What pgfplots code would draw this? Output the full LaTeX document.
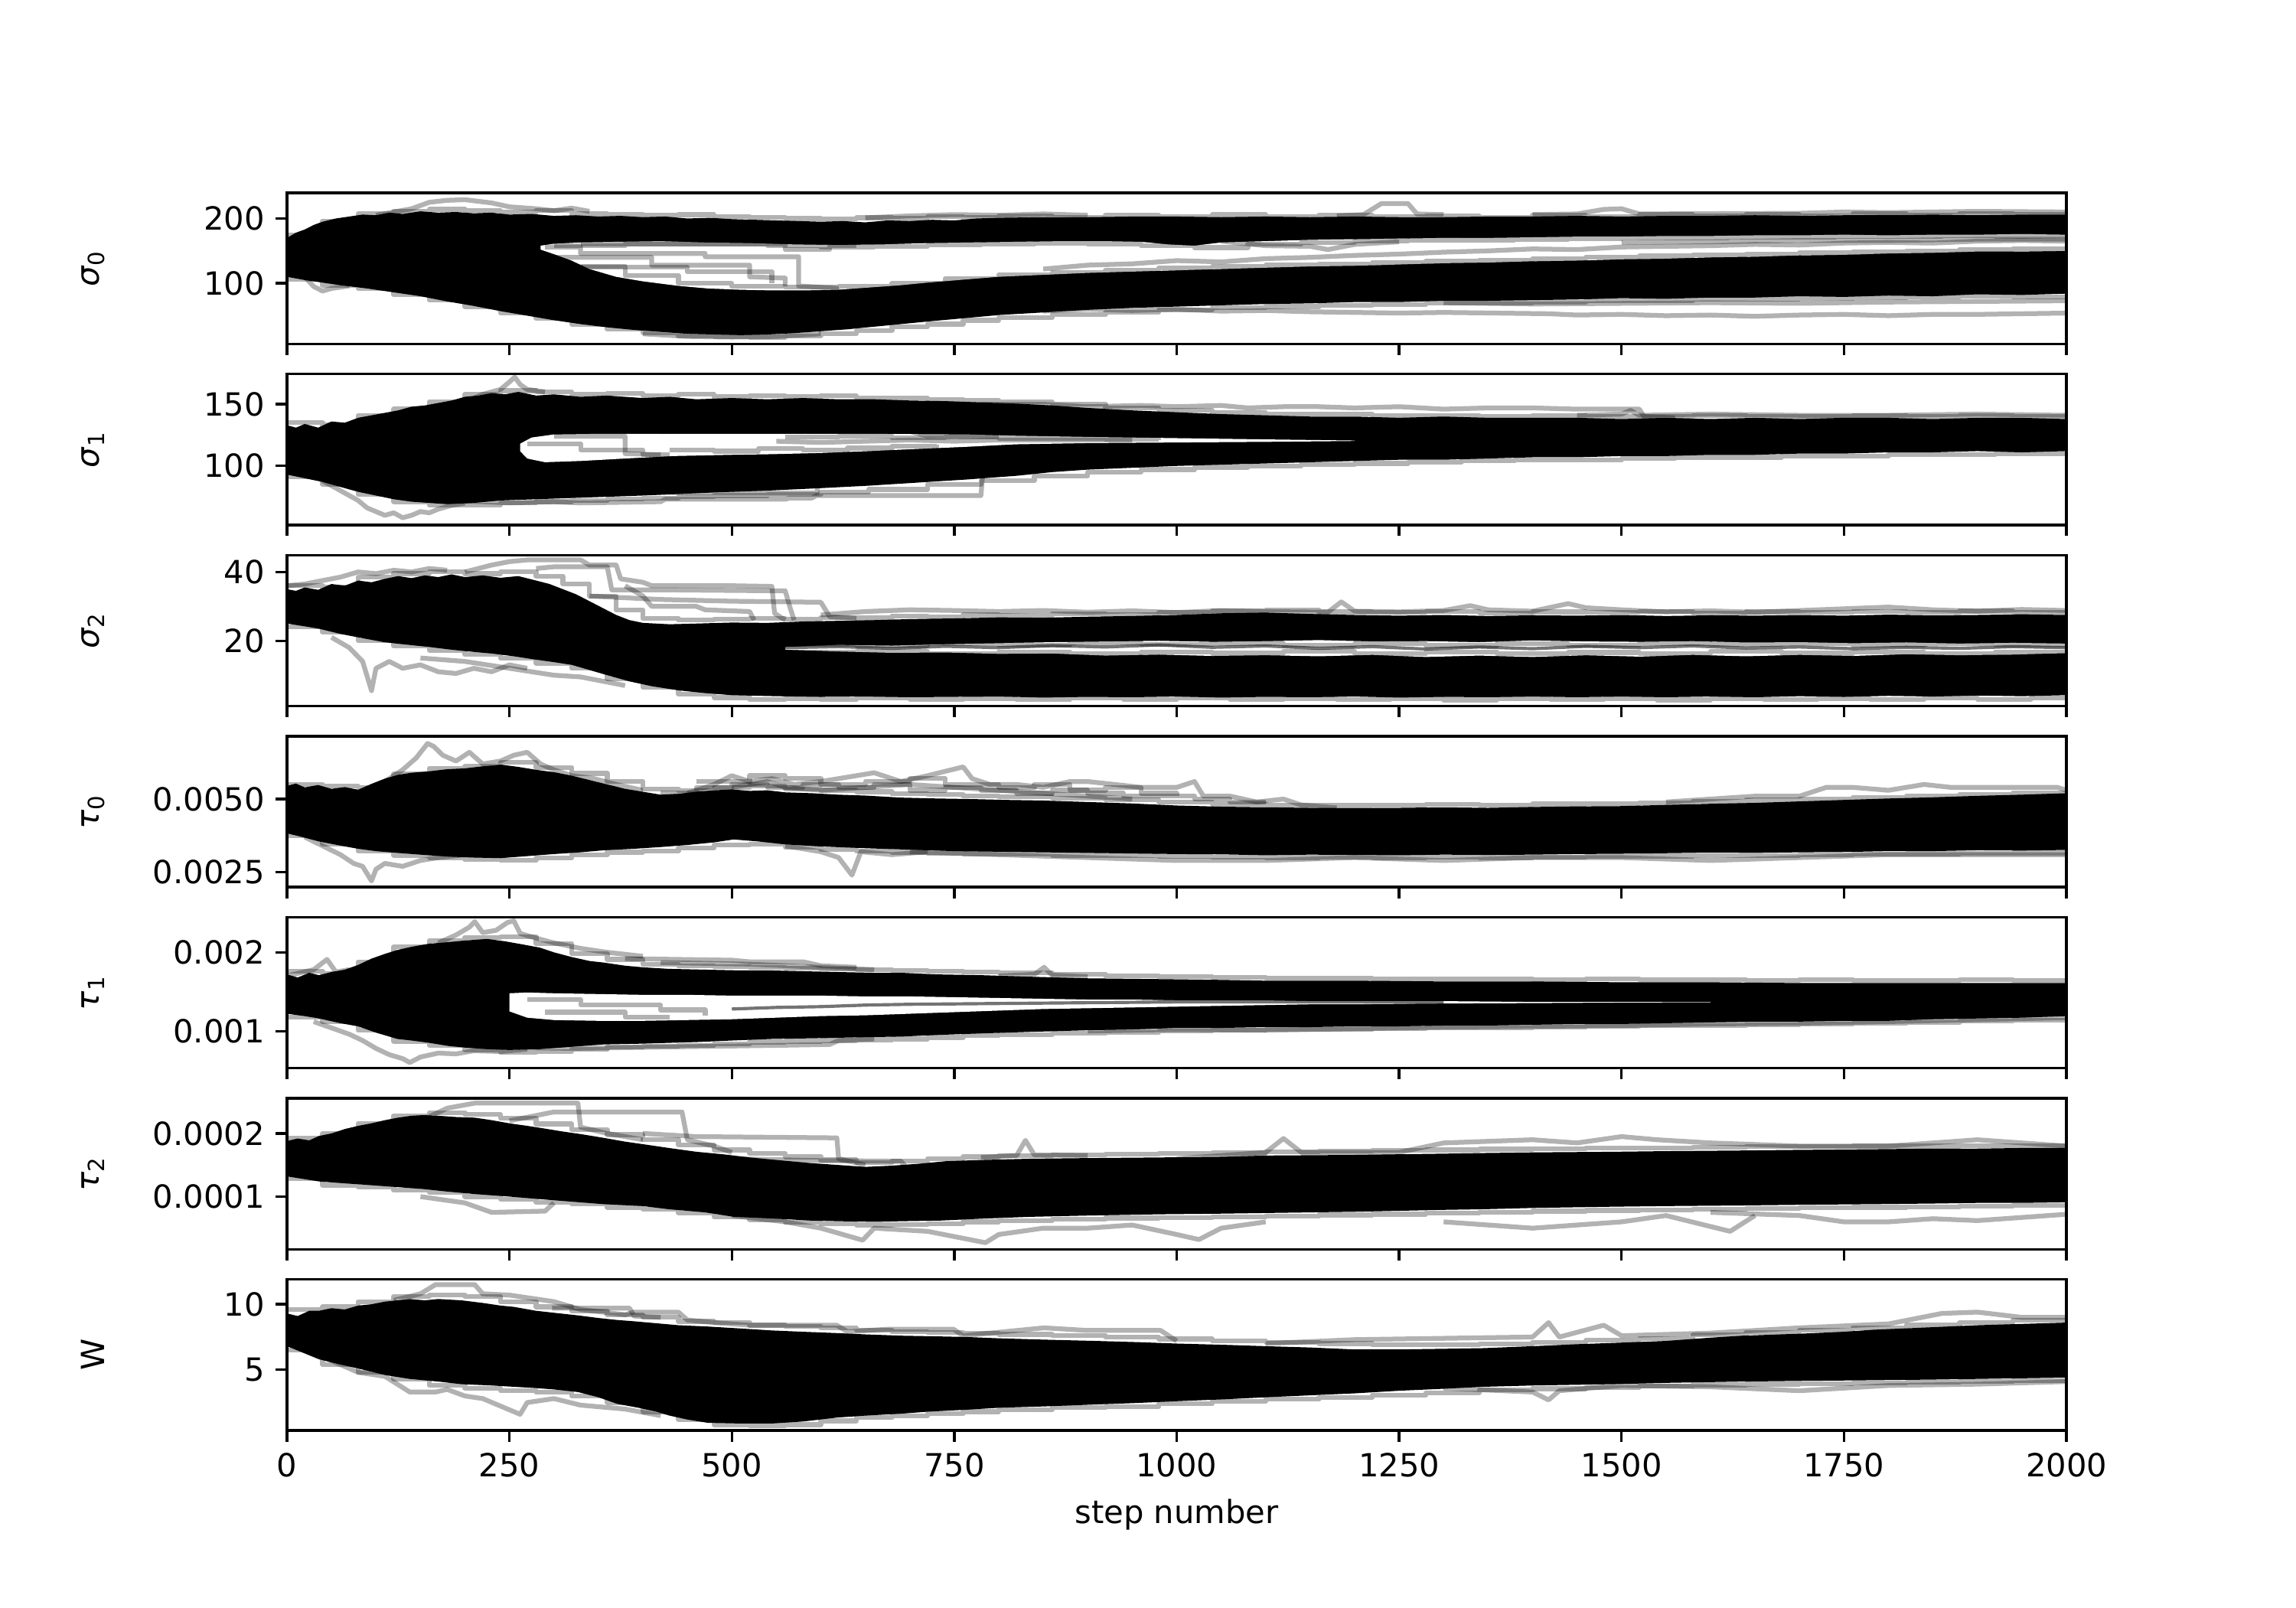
\documentclass[border=0pt]{standalone}
\usepackage{fontspec}
\setmainfont{DejaVu Sans}
\usepackage{pgfplots}
\pgfplotsset{compat=1.18}
\pgfplotsset{
  trace/.style={scale only axis, width=558pt, height=47.327pt, xmin=0, xmax=2000,
    xtick={0,250,500,750,1000,1250,1500,1750,2000}, xticklabels={},
    xtick pos=bottom, ytick pos=left, tick align=outside, major tick length=3.5pt,
    tick style={black, line width=0.8pt}, axis line style={line width=0.8pt},
    tick label style={font=\fontsize{10}{12}\selectfont},
    scaled y ticks=false, axis on top,
    ylabel style={at={(axis description cs:-0.109,0.5)}, anchor=center, font=\fontsize{10}{12}\selectfont},
    xlabel style={font=\fontsize{10}{12}\selectfont}},
  band/.style={fill=black, draw=none, mark=none, forget plot},
  hole/.style={fill=white, draw=none, mark=none, forget plot},
  walk/.style={black, opacity=0.3, line width=1.5pt, line join=round, mark=none, forget plot},
  dwalk/.style={black, opacity=0.55, line width=1.0pt, line join=round, mark=none, forget plot},
  fuzz/.style={walk, const plot},
}
\begin{document}
\begin{tikzpicture}
\path[use as bounding box] (-90pt,60.48pt) rectangle (630pt,-443.52pt);
% ---------------- sigma_0 ----------------
\begin{axis}[trace, at={(0pt,0pt)}, anchor=north west, ymin=6.6, ymax=239.5,
  ytick={100,200}, yticklabels={100,200}, ylabel={\textit{σ}\textsubscript{0}}]
\addplot[band] coordinates {(0,170) (10,178) (20,183) (30,190) (40,195) (55,200) (70,203) (85,206) (100,205) (115,209) (130,207) (150,211) (170,209) (190,210) (210,208) (230,209) (250,206) (275,207) (300,204) (325,205) (350,203) (375,204) (400,202) (425,203) (450,200) (475,201) (500,199) (525,198) (550,197) (575,196) (600,195) (625,196) (650,194) (675,197) (700,196) (725,198) (750,197) (775,200) (800,201) (850,202) (900,202) (950,203) (1000,203) (1050,202) (1100,203) (1150,202) (1200,203) (1250,202) (1300,202) (1350,203) (1400,203) (1450,204) (1500,203) (1550,204) (1600,204) (1650,205) (1700,204) (1750,205) (1800,205) (1850,206) (1900,205) (1950,206) (2000,206)
 (2000,84) (1950,82) (1900,83) (1850,80) (1800,81) (1750,79) (1700,80) (1650,78) (1600,78) (1550,76) (1500,77) (1450,75) (1400,74) (1350,73) (1300,73) (1250,71) (1200,71) (1150,69) (1100,68) (1050,66) (1000,64) (950,62) (900,59) (850,55) (800,51) (760,46) (720,41) (690,37) (660,33) (630,29) (600,26) (570,23) (540,21) (510,20) (480,21) (450,22) (420,25) (390,28) (360,32) (330,37) (300,43) (270,50) (240,57) (210,65) (180,72) (150,80) (120,86) (90,92) (60,97) (40,101) (20,105) (0,110)};
\addplot[hole] coordinates {(285,158) (300,161) (330,163) (370,164) (420,165) (470,163) (520,162) (570,160) (620,159) (670,160) (720,162) (770,163) (820,164) (870,165) (920,165) (960,164) (990,160) (1020,158) (1050,163) (1100,165) (1150,167) (1200,168) (1250,169) (1300,170) (1350,170) (1400,171) (1450,172) (1500,172) (1550,173) (1600,173) (1650,174) (1700,174) (1750,175) (1800,174) (1850,175) (1900,175) (1950,176) (2000,175)
 (2000,150) (1950,149) (1900,149) (1850,147) (1800,146) (1750,144) (1700,143) (1650,141) (1600,140) (1550,138) (1500,137) (1450,135) (1400,134) (1350,132) (1300,131) (1250,129) (1200,127) (1150,126) (1100,124) (1050,122) (1000,120) (950,118) (900,116) (850,113) (800,110) (764,106) (720,101) (690,97) (650,93) (618,90) (580,89) (545,89) (510,90) (473,92) (440,96) (400,103) (370,110) (340,122) (320,135) (300,145) (285,152)};
\addplot[fuzz] coordinates {(0,175) (40,196) (80,207) (120,211) (160,214) (200,212) (240,210) (280,212) (320,207) (360,206) (400,205) (440,206) (480,203) (520,202) (560,200) (600,199) (640,201) (680,200) (720,203) (760,201) (800,204) (860,202) (920,205) (980,203) (1040,206) (1100,203) (1160,205) (1220,203) (1280,204) (1340,202) (1400,205) (1460,203) (1520,206) (1580,204) (1640,206) (1700,204) (1760,207) (1820,205) (1880,208) (1940,206) (2000,207)};
\addplot[fuzz] coordinates {(0,106) (40,97) (80,92) (120,82) (160,74) (200,64) (240,54) (280,46) (320,37) (360,29) (400,24) (440,19) (480,18) (520,17) (560,19) (600,22) (640,27) (680,33) (720,37) (760,43) (800,47) (860,52) (920,55) (980,59) (1040,62) (1100,64) (1160,66) (1220,67) (1280,69) (1340,70) (1400,71) (1460,73) (1520,73) (1580,75) (1640,76) (1700,77) (1760,78) (1820,79) (1880,80) (1940,79) (2000,81)};
\addplot[fuzz] coordinates {(300,158) (380,161) (460,160) (540,158) (600,156) (660,157) (720,159) (780,160) (840,162) (900,161) (960,158) (1020,155) (1080,160) (1140,163) (1200,165) (1260,166) (1320,167) (1380,168) (1440,169) (1500,170) (1560,170) (1620,171) (1680,171) (1740,172) (1800,172) (1860,173) (1920,172) (2000,173)};
\addplot[fuzz] coordinates {(330,126) (380,112) (440,100) (500,95) (560,94) (620,95) (680,100) (740,107) (800,113) (860,117) (920,120) (980,124) (1040,126) (1100,128) (1160,130) (1220,132) (1280,134) (1340,136) (1400,138) (1460,140) (1520,142) (1580,144) (1640,145) (1700,147) (1760,149) (1820,150) (1880,152) (1940,153) (2000,154)};
\addplot[walk] coordinates {(290,156) (330,156) (330,146) (470,146) (470,141) (575,141) (575,96) (620,92)};
\addplot[walk] coordinates {(300,140) (410,140) (410,128) (520,128) (520,110) (560,108) (560,95)};
\addplot[walk] coordinates {(320,125) (450,125) (450,118) (545,118) (545,100)};
\addplot[walk] coordinates {(330,160) (560,160) (560,152) (610,152) (610,158) (640,158)};
\addplot[walk] coordinates {(850,122) (900,128) (950,130) (1000,135) (1050,133) (1100,138) (1150,140) (1200,143) (1250,145) (1300,148) (1350,150) (1400,153) (1450,152) (1500,156) (1550,157) (1600,158) (1650,160) (1700,159) (1750,162) (1800,163) (1850,162) (1900,165) (1950,166) (2000,165)};
\addplot[walk] coordinates {(1500,163) (1600,164) (1700,166) (1800,166) (1900,168) (2000,168)};
\addplot[walk] coordinates {(1050,165) (1100,158) (1150,157) (1170,152) (1200,160) (1250,164)};
\addplot[walk] coordinates {(850,57) (900,60) (950,58) (1000,60) (1050,57) (1100,58) (1150,56) (1200,55) (1250,54) (1300,55) (1418,53) (1450,51) (1500,52) (1550,50) (1600,51) (1650,49) (1700,51) (1750,52) (1800,50) (1850,52) (1900,52) (1950,53) (2000,54)};
\addplot[walk] coordinates {(1300,70) (1400,68) (1500,69) (1600,70) (1700,69) (1800,71) (1900,72) (2000,73)};
\addplot[walk] coordinates {(100,205) (140,215) (160,225) (180,228) (200,229) (230,224) (250,218) (280,215) (300,212) (320,216) (340,211)};
\addplot[walk] coordinates {(1180,204) (1210,206) (1230,223) (1260,223) (1270,207) (1300,206)};
\addplot[walk] coordinates {(1400,206) (1450,207) (1480,214) (1500,215) (1520,207) (1700,208) (1750,210) (1800,209) (1900,211) (2000,210)};
\addplot[walk] coordinates {(20,110) (30,95) (40,88) (50,92) (70,96)};
\addplot[walk] coordinates {(400,22) (450,18) (500,17) (550,18) (600,22)};
\addplot[walk] coordinates {(650,201) (700,204) (750,206) (800,205) (850,207) (900,205)};
\end{axis}
% ---------------- sigma_1 ----------------
\begin{axis}[trace, at={(0pt,-56.79pt)}, anchor=north west, ymin=52.2, ymax=174.5,
  ytick={100,150}, yticklabels={100,150}, ylabel={\textit{σ}\textsubscript{1}}]
\addplot[band] coordinates {(0,133) (10,131) (20,134) (35,131) (50,136) (65,135) (80,139) (95,141) (110,143) (125,145) (140,148) (155,149) (170,151) (185,153) (200,156) (215,157) (230,159) (245,158) (260,160) (280,157) (300,158) (330,156) (360,157) (400,155) (430,156) (460,154) (500,155) (540,154) (580,155) (620,154) (660,154) (700,153) (740,152.5) (780,151.5) (820,150.5) (860,149) (900,147) (950,145) (1000,143.5) (1050,142) (1100,141) (1150,140) (1200,140) (1250,139) (1300,140) (1350,139) (1400,139) (1450,139) (1500,138) (1550,139) (1600,138) (1650,139) (1700,138) (1750,139) (1800,139) (1850,138) (1900,139) (1950,139) (2000,138)
 (2000,112) (1950,111) (1900,112) (1850,111) (1800,111) (1750,110) (1700,110) (1650,109) (1600,109) (1550,108) (1500,108) (1450,107) (1400,107) (1350,106) (1300,105) (1250,105) (1200,104) (1150,103) (1100,102) (1050,101) (1000,100) (950,98.5) (900,97) (860,95) (820,92) (764,89) (720,87) (654,84) (600,82) (540,80) (480,78.5) (434,77) (400,76) (360,75) (320,74) (280,73) (240,72) (210,70) (180,69) (160,70) (140,71) (120,73) (100,76) (80,79) (60,83) (40,87) (20,90) (0,93)};
\addplot[hole] coordinates {(262,118) (275,123) (300,125.5) (350,126) (434,126) (544,126) (654,126) (764,125.5) (819,124.5) (900,123.5) (1000,122.5) (1100,121.5) (1200,120.6)
 (1200,120.2) (1100,119.5) (1000,119) (900,118.5) (819,117.5) (764,115.5) (700,113.5) (654,112) (600,110.5) (544,109.5) (500,109) (434,108) (380,106) (330,104) (290,103) (270,106) (262,112)};
\addplot[fuzz] coordinates {(0,135) (40,133) (80,141) (120,146) (160,152) (200,158) (240,161) (280,160) (320,158) (360,159) (400,157) (440,158) (480,156) (520,157) (560,156) (600,157) (640,155) (680,155) (720,154) (760,153) (800,152) (860,150) (920,147) (980,145) (1040,143) (1100,142) (1160,142) (1220,141) (1280,141) (1340,140) (1400,141) (1460,140) (1520,140) (1580,141) (1640,140) (1700,140) (1760,141) (1820,140) (1880,141) (1940,140) (2000,140)};
\addplot[fuzz] coordinates {(0,91) (40,85) (80,77) (120,71) (160,68) (200,68) (240,70) (280,71) (320,72) (360,73) (400,74) (440,75) (480,76) (540,77) (600,79) (654,81) (720,85) (780,88) (840,92) (900,95) (960,97) (1020,99) (1080,100) (1140,101) (1200,102) (1260,103) (1320,104) (1380,105) (1440,105) (1500,106) (1560,107) (1620,107) (1680,108) (1740,108) (1800,109) (1860,109) (1920,110) (2000,110)};
\addplot[walk] coordinates {(780,150) (850,150) (900,148) (960,149) (1000,148) (1050,149) (1080,147) (1120,148) (1160,148) (1200,147) (1250,148) (1300,146) (1350,147) (1400,147) (1450,146) (1500,146) (1520,146) (1525,140) (1560,139)};
\addplot[walk] coordinates {(180,72) (220,71) (250,70) (300,71) (330,70) (420,71) (425,73) (560,73) (565,74) (590,74) (595,76) (780,76) (782,94) (800,95)};
\addplot[walk] coordinates {(400,80) (450,78) (500,78) (596,78) (596,86) (620,88)};
\addplot[walk] coordinates {(40,88) (60,80) (80,72) (90,66) (100,63) (110,60) (120,62) (130,58) (140,60) (150,63) (160,62) (170,65) (185,68) (200,70)};
\addplot[walk] coordinates {(200,152) (220,158) (240,162) (250,168) (256,172) (262,166) (270,162) (290,160)};
\addplot[walk] coordinates {(270,118) (330,118) (330,113) (400,113) (400,109) (430,109)};
\addplot[walk] coordinates {(300,124) (380,124) (380,110) (420,109)};
\addplot[walk] coordinates {(550,120) (600,119) (650,120) (700,121) (750,120) (800,121) (850,121) (900,121) (950,121)};
\addplot[fuzz] coordinates {(560,123.5) (620,124) (680,123) (740,123.5) (800,122.5) (860,122.5) (920,121.5) (980,121)};
\addplot[fuzz] coordinates {(430,113) (480,112) (530,114) (580,113) (630,114.5) (680,116) (730,117)};
\addplot[walk] coordinates {(1450,141) (1500,142) (1510,145) (1520,141) (1600,142) (1700,141) (1800,141) (1900,142) (2000,141)};
\addplot[walk] coordinates {(420,128) (500,129) (600,128) (700,128) (720,124) (800,124)};
\end{axis}
% ---------------- sigma_2 ----------------
\begin{axis}[trace, at={(0pt,-113.58pt)}, anchor=north west, ymin=1.05, ymax=44.9,
  ytick={20,40}, yticklabels={20,40}, ylabel={\textit{σ}\textsubscript{2}}]
\addplot[band] coordinates {(0,35) (10,34.5) (20,35.5) (35,34.8) (50,36.5) (65,36) (80,37.5) (95,37) (110,38) (125,38.8) (140,38.2) (155,39) (170,38.5) (185,39.3) (200,38.5) (220,39) (240,38.3) (260,38.8) (280,37.5) (295,36.5) (310,35) (325,33.5) (340,31.5) (355,29.5) (370,27.5) (385,26) (400,25.2) (430,24.8) (460,25) (500,25.3) (540,25.2) (580,25.6) (620,25.8) (660,26) (700,26.3) (750,26.5) (800,26.8) (850,26.7) (900,27) (950,27.2) (1000,27.5) (1050,28) (1100,28.2) (1150,27.8) (1200,27.5) (1250,27.3) (1300,27.5) (1350,27.2) (1400,27.4) (1450,27.3) (1500,27.5) (1550,27.2) (1600,27.4) (1650,27.3) (1700,27.5) (1750,27.3) (1800,27.6) (1850,27.4) (1900,27.5) (1950,27.7) (2000,27.5)
 (2000,4.2) (1950,3.9) (1900,4.1) (1850,3.8) (1800,4) (1750,3.7) (1700,3.9) (1650,3.6) (1600,3.8) (1550,3.6) (1500,3.8) (1450,3.6) (1400,3.8) (1350,3.6) (1300,3.7) (1250,3.5) (1200,3.8) (1150,3.6) (1100,3.7) (1050,3.5) (1000,3.8) (950,3.6) (900,3.7) (850,3.5) (800,3.8) (750,3.7) (700,3.6) (650,3.8) (600,3.7) (550,3.9) (500,4.2) (470,4.8) (440,5.6) (410,6.8) (385,8.2) (360,10) (340,11.5) (320,13) (300,13.8) (280,14.5) (255,15.5) (230,16.3) (200,17) (182,17.5) (160,18.2) (130,19) (109,19.6) (80,21) (60,22) (36,23.5) (20,24.2) (0,25)};
\addplot[hole] coordinates {(560,18.2) (620,18.8) (680,18.6) (740,19.0) (800,19.3) (860,19.6) (920,19.8) (980,20.0) (1040,19.7) (1100,19.9) (1160,20.2) (1220,19.8) (1280,19.9) (1340,19.6) (1400,20.1) (1460,19.8) (1520,19.7) (1580,19.9) (1640,19.5) (1700,19.6) (1760,19.3) (1820,19.5) (1880,19.2) (1940,19.4) (2000,19.2)
 (2000,16.4) (1940,16.0) (1880,15.8) (1820,16.1) (1760,15.6) (1700,15.9) (1640,15.5) (1580,15.9) (1520,15.4) (1460,15.8) (1400,15.3) (1340,15.7) (1280,15.3) (1220,15.9) (1160,15.5) (1100,15.8) (1040,15.6) (980,16.0) (920,15.7) (860,16.3) (800,16.2) (740,16.6) (680,16.5) (620,16.9) (560,17.4)};
\addplot[dwalk] coordinates {(560,18) (620,18.3) (680,17.8) (740,18.4) (800,18.0) (860,18.6) (920,18.2) (980,18.8) (1040,18.1) (1100,18.5) (1160,17.8) (1220,18.3) (1280,17.6) (1340,18.2) (1400,17.7) (1460,18.4) (1520,18.0) (1580,18.5) (1640,17.9) (1700,18.2) (1760,17.7) (1820,18.1) (1880,17.8) (1940,18.3) (2000,18.0)};
\addplot[fuzz] coordinates {(560,19) (640,18.6) (720,19.2) (800,18.8) (880,19.4) (960,18.9) (1040,19.3) (1120,18.7) (1200,19.1) (1280,18.6) (1360,19.2) (1440,18.8) (1520,19.3) (1600,18.9) (1680,19.2) (1760,18.7) (1840,19.1) (1920,18.8) (2000,19.0)};
\addplot[fuzz] coordinates {(560,16.6) (640,16.9) (720,16.3) (800,16.8) (880,16.2) (960,16.7) (1040,16.4) (1120,16.9) (1200,16.3) (1280,16.8) (1360,16.2) (1440,16.6) (1520,16.3) (1600,16.9) (1680,16.4) (1760,16.7) (1840,16.2) (1920,16.8) (2000,16.5)};
\addplot[fuzz] coordinates {(0,36) (40,35.5) (80,38.5) (120,39.5) (160,40) (200,39.5) (240,40) (280,38.8) (310,36.5) (340,33) (370,29) (400,26.5) (440,26) (480,26.2) (520,26.5) (560,26.3) (600,26.8) (640,26.6) (680,27.2) (720,27) (760,27.5) (800,27.3) (860,27.8) (920,27.6) (980,28.2) (1040,28.6) (1100,28.9) (1160,28.4) (1220,28.2) (1280,28.5) (1340,28.1) (1400,28.4) (1460,28.2) (1520,28.5) (1580,28.1) (1640,28.4) (1700,28.3) (1760,28.5) (1820,28.2) (1880,28.6) (1940,28.3) (2000,28.5)};
\addplot[fuzz] coordinates {(0,24) (40,22.5) (80,20) (120,18.5) (160,17.3) (200,16) (240,15) (280,13.5) (320,12) (360,9) (400,6.5) (440,4.5) (480,3.5) (520,3) (560,3.2) (600,2.9) (640,3.3) (700,3.0) (760,3.2) (820,2.9) (880,3.3) (940,3.0) (1000,3.3) (1060,2.9) (1120,3.2) (1180,2.9) (1240,3.1) (1300,2.8) (1360,3.2) (1420,2.9) (1480,3.1) (1540,2.8) (1600,3.2) (1660,2.9) (1720,3.2) (1780,2.9) (1840,3.3) (1900,3.0) (1960,3.4) (2000,3.2)};
\addplot[walk] coordinates {(200,40) (230,42) (250,43) (270,43.5) (330,43.5) (340,42) (370,42) (375,38) (400,37) (410,36) (500,36) (545,35.8) (548,28) (560,26)};
\addplot[walk] coordinates {(280,41) (300,41.5) (360,41.5) (365,34.8) (420,34.8) (560,34.5) (565,30) (570,26)};
\addplot[walk] coordinates {(340,33) (420,32) (500,31.5) (600,31.2) (610,27) (640,26.5)};
\addplot[walk] coordinates {(380,36) (400,33) (410,30) (460,30) (470,29) (520,28.5) (525,26)};
\addplot[walk] coordinates {(50,21) (70,18) (85,14) (95,5.5) (100,12) (115,14) (130,12) (150,13) (170,11) (190,10.5) (210,12) (230,11) (250,13) (270,12)};
\addplot[walk] coordinates {(150,15) (200,14) (250,12) (300,10) (330,9.5) (360,8) (380,7)};
\addplot[walk] coordinates {(600,27.5) (650,28.5) (700,29) (750,28.8) (800,28.5) (850,28.8) (900,28.3) (950,28.7) (1000,28.2) (1050,28.8) (1100,28.5) (1170,28.3) (1185,31.3) (1200,28.6) (1250,28.4) (1300,28.8) (1330,30.2) (1350,29) (1400,28.6) (1440,30.8) (1460,29.6) (1500,29) (1550,28.4) (1600,28.7) (1650,28.3) (1700,28.8) (1750,29.3) (1800,29.8) (1850,29.0) (1900,28.6) (1950,29.1) (2000,28.8)};
\addplot[walk] coordinates {(0,36) (20,36.5) (40,37.5) (60,38.5) (80,40) (100,39.5) (120,40.5) (140,40) (160,41) (180,40.5)};
\end{axis}
% ---------------- tau_0 ----------------
\begin{axis}[trace, at={(0pt,-170.37pt)}, anchor=north west, ymin=0.00199, ymax=0.00715,
  ytick={0.0025,0.005}, yticklabels={0.0025,0.0050}, ylabel={\textit{τ}\textsubscript{0}}]
\addplot[band] coordinates {(0,0.00545) (10,0.00553) (20,0.00540) (35,0.00548) (50,0.00535) (65,0.00541) (80,0.00532) (95,0.00552) (110,0.00570) (125,0.00583) (140,0.00590) (160,0.00595) (180,0.00602) (200,0.00605) (220,0.00612) (240,0.00618) (260,0.00610) (280,0.00600) (300,0.00592) (320,0.00580) (340,0.00565) (360,0.00550) (380,0.00535) (400,0.00525) (420,0.00515) (440,0.00518) (460,0.00525) (480,0.00530) (500,0.00533) (520,0.00528) (540,0.00530) (560,0.00523) (590,0.00520) (620,0.00515) (650,0.00512) (690,0.00505) (730,0.00502) (770,0.00500) (810,0.00497) (850,0.00495) (900,0.00490) (950,0.00485) (1000,0.00478) (1050,0.00474) (1100,0.00472) (1150,0.00470) (1200,0.00469) (1250,0.00470) (1300,0.00472) (1350,0.00470) (1400,0.00473) (1450,0.00475) (1500,0.00476) (1550,0.00480) (1600,0.00484) (1650,0.00487) (1700,0.00492) (1750,0.00497) (1800,0.00502) (1850,0.00506) (1900,0.00511) (1950,0.00515) (2000,0.00520)
 (2000,0.00326) (1950,0.00324) (1900,0.00325) (1850,0.00322) (1800,0.00322) (1750,0.00319) (1700,0.00318) (1650,0.00316) (1600,0.00317) (1550,0.00315) (1500,0.00313) (1450,0.00312) (1400,0.00310) (1350,0.00309) (1300,0.00310) (1250,0.00308) (1200,0.00309) (1150,0.00310) (1100,0.00308) (1050,0.00311) (1000,0.00312) (950,0.00314) (900,0.00316) (850,0.00318) (800,0.00320) (750,0.00322) (700,0.00327) (650,0.00332) (600,0.00338) (560,0.00345) (530,0.00355) (502,0.00362) (480,0.00352) (450,0.00343) (420,0.00336) (390,0.00330) (356,0.00325) (330,0.00318) (300,0.00312) (270,0.00305) (240,0.00298) (210,0.00300) (182,0.00303) (150,0.00310) (124,0.00316) (100,0.00322) (80,0.00330) (60,0.00341) (36,0.00355) (20,0.00368) (0,0.00383)};
\addplot[fuzz] coordinates {(0,0.00550) (40,0.00545) (80,0.00540) (120,0.00585) (160,0.00605) (200,0.00612) (240,0.00625) (280,0.00608) (320,0.00588) (360,0.00560) (400,0.00535) (440,0.00528) (480,0.00540) (520,0.00545) (560,0.00535) (600,0.00530) (640,0.00525) (680,0.00518) (720,0.00515) (760,0.00510) (800,0.00508) (860,0.00503) (920,0.00498) (980,0.00490) (1040,0.00483) (1100,0.00480) (1160,0.00478) (1220,0.00479) (1280,0.00481) (1340,0.00480) (1400,0.00483) (1460,0.00485) (1520,0.00488) (1580,0.00492) (1640,0.00496) (1700,0.00501) (1760,0.00506) (1820,0.00511) (1880,0.00516) (1940,0.00521) (2000,0.00527)};
\addplot[fuzz] coordinates {(0,0.00375) (40,0.00345) (80,0.00322) (120,0.00308) (160,0.00300) (200,0.00293) (240,0.00290) (280,0.00298) (320,0.00310) (360,0.00318) (400,0.00322) (440,0.00333) (480,0.00343) (520,0.00345) (560,0.00336) (600,0.00328) (640,0.00322) (680,0.00318) (720,0.00315) (760,0.00313) (800,0.00311) (860,0.00308) (920,0.00306) (980,0.00303) (1040,0.00302) (1100,0.00300) (1160,0.00301) (1220,0.00300) (1280,0.00302) (1340,0.00300) (1400,0.00302) (1460,0.00304) (1520,0.00305) (1580,0.00307) (1640,0.00307) (1700,0.00309) (1760,0.00311) (1820,0.00313) (1880,0.00314) (1940,0.00316) (2000,0.00317)};
\addplot[fuzz] coordinates {(420,0.0052) (460,0.0054) (500,0.0055) (540,0.0054) (580,0.0055) (620,0.0054) (660,0.0055) (700,0.0053) (740,0.0054) (780,0.0053) (820,0.0052) (860,0.0053) (900,0.0052) (940,0.0051) (980,0.0051) (1020,0.0050) (1060,0.0049) (1100,0.0049)};
\addplot[fuzz] coordinates {(460,0.0056) (520,0.0058) (560,0.0057) (600,0.0055) (650,0.0056) (700,0.0057) (740,0.0055) (800,0.0054) (840,0.0055) (880,0.0053) (920,0.0054) (960,0.0052) (1000,0.0051)};
\addplot[walk] coordinates {(110,0.0056) (130,0.0060) (145,0.0064) (158,0.0069) (165,0.0068) (175,0.0065) (190,0.0063) (205,0.0066) (220,0.0062) (240,0.0063) (255,0.0065) (270,0.0066) (285,0.0062) (300,0.0060) (320,0.0058) (345,0.0057) (370,0.0055) (400,0.0053)};
\addplot[walk] coordinates {(450,0.0052) (480,0.0055) (500,0.0058) (520,0.0056) (545,0.0057) (570,0.0055) (600,0.0056) (640,0.0058) (660,0.0059) (690,0.0056) (720,0.0058) (760,0.0061) (770,0.0057) (790,0.0055) (820,0.0055) (850,0.0054) (880,0.0056) (900,0.0056) (930,0.0055) (960,0.0054) (1000,0.0054) (1020,0.0056) (1030,0.0051) (1060,0.0051) (1090,0.0049) (1120,0.0050) (1140,0.0048) (1180,0.0047)};
\addplot[walk] coordinates {(500,0.0054) (540,0.0056) (560,0.0054) (600,0.0053) (650,0.0054) (700,0.0055) (750,0.0054) (800,0.0053) (850,0.0052) (900,0.0051) (950,0.0050)};
\addplot[walk] coordinates {(1550,0.0049) (1600,0.0050) (1650,0.0051) (1700,0.0051) (1730,0.0054) (1760,0.0054) (1800,0.0053) (1840,0.0055) (1870,0.0054) (1900,0.0054) (1950,0.0054) (1990,0.0054) (2000,0.0053)};
\addplot[walk] coordinates {(20,0.0037) (40,0.0034) (60,0.0031) (75,0.0028) (85,0.0027) (95,0.0022) (100,0.0026) (110,0.0028) (130,0.0027) (150,0.0029) (170,0.0030) (200,0.0031)};
\addplot[walk] coordinates {(560,0.0034) (600,0.0032) (620,0.0030) (635,0.0024) (645,0.0032) (680,0.0031) (720,0.0032)};
\addplot[walk] coordinates {(700,0.0032) (800,0.0031) (900,0.0030) (1000,0.0029) (1100,0.0029) (1200,0.0030) (1300,0.0029) (1400,0.0030) (1500,0.0030) (1600,0.0029) (1700,0.0030) (1800,0.0031) (1900,0.0031) (2000,0.0031)};
\end{axis}
% ---------------- tau_1 ----------------
\begin{axis}[trace, at={(0pt,-227.16pt)}, anchor=north west, ymin=0.000528, ymax=0.002445,
  ytick={0.001,0.002}, yticklabels={0.001,0.002}, ylabel={\textit{τ}\textsubscript{1}}]
\addplot[band] coordinates {(0,0.00172) (12,0.00168) (25,0.00174) (36,0.00171) (50,0.00175) (65,0.00178) (80,0.00184) (95,0.00192) (110,0.00198) (124,0.00203) (140,0.00207) (160,0.00211) (182,0.00213) (200,0.00215) (225,0.00217) (245,0.00214) (265,0.00210) (284,0.00206) (300,0.00200) (320,0.00194) (340,0.00189) (356,0.00187) (380,0.00183) (400,0.00181) (429,0.00179) (470,0.00178) (510,0.00177) (545,0.00177) (580,0.00176) (620,0.00175) (660,0.00174) (691,0.00174) (730,0.00172) (780,0.00171) (836,0.00169) (900,0.00167) (982,0.00166) (1050,0.00165) (1100,0.00164) (1200,0.00164) (1300,0.00163) (1400,0.00163) (1500,0.00162) (1600,0.00162) (1700,0.00161) (1800,0.00161) (1900,0.00161) (2000,0.00161)
 (2000,0.00119) (1950,0.00117) (1900,0.00116) (1850,0.00115) (1800,0.00113) (1750,0.00113) (1700,0.00112) (1650,0.00112) (1600,0.00111) (1550,0.00110) (1500,0.00109) (1450,0.00109) (1400,0.00108) (1350,0.00107) (1300,0.00107) (1250,0.00106) (1200,0.00106) (1150,0.00105) (1100,0.00105) (1050,0.00104) (1000,0.00104) (950,0.00102) (900,0.00101) (836,0.00099) (780,0.00097) (730,0.00095) (691,0.00093) (640,0.00092) (600,0.00091) (545,0.00090) (500,0.00088) (460,0.00086) (429,0.00085) (400,0.00084) (356,0.00083) (320,0.00080) (284,0.00077) (250,0.00076) (225,0.00077) (200,0.00079) (182,0.00081) (160,0.00085) (140,0.00088) (124,0.00090) (100,0.00098) (80,0.00106) (60,0.00110) (36,0.00116) (20,0.00119) (0,0.00122)};
\addplot[hole] coordinates {(250,0.00148) (270,0.00149) (300,0.00148) (350,0.00147) (400,0.00146) (450,0.00146) (500,0.00145) (550,0.00145) (600,0.00145) (650,0.00144) (700,0.00144) (750,0.00143) (800,0.00142) (850,0.00141) (900,0.00140) (950,0.00140) (1000,0.00139) (1050,0.00139) (1100,0.00139) (1150,0.00138) (1200,0.00138) (1300,0.00138) (1400,0.00137) (1500,0.00137) (1600,0.00137)
 (1600,0.001366) (1500,0.001362) (1400,0.001355) (1300,0.00135) (1200,0.00134) (1150,0.00134) (1100,0.00133) (1050,0.00132) (1000,0.00131) (950,0.00130) (900,0.00129) (850,0.00128) (800,0.00126) (750,0.00124) (700,0.00122) (650,0.00120) (600,0.00119) (550,0.00117) (500,0.00115) (450,0.00114) (400,0.00113) (350,0.00113) (300,0.00114) (270,0.00117) (250,0.00125)};
\addplot[fuzz] coordinates {(0,0.00176) (40,0.00173) (80,0.00188) (120,0.00207) (160,0.00215) (200,0.00219) (240,0.00220) (280,0.00211) (320,0.00198) (360,0.00191) (400,0.00185) (440,0.00183) (480,0.00182) (520,0.00181) (560,0.00180) (600,0.00179) (640,0.00178) (680,0.00177) (720,0.00176) (760,0.00175) (800,0.00174) (860,0.00172) (920,0.00170) (980,0.00169) (1040,0.00168) (1100,0.00167) (1160,0.00167) (1220,0.00166) (1280,0.00166) (1340,0.00166) (1400,0.00165) (1460,0.00166) (1520,0.00165) (1580,0.00165) (1640,0.00164) (1700,0.00165) (1760,0.00164) (1820,0.00164) (1880,0.00165) (1940,0.00164) (2000,0.00164)};
\addplot[fuzz] coordinates {(0,0.00118) (40,0.00112) (80,0.00101) (120,0.00087) (160,0.00082) (200,0.00076) (240,0.00073) (280,0.00074) (320,0.00077) (360,0.00080) (400,0.00081) (440,0.00082) (480,0.00084) (520,0.00086) (560,0.00087) (600,0.00088) (640,0.00089) (680,0.00090) (720,0.00092) (760,0.00094) (800,0.00095) (860,0.00097) (920,0.00098) (980,0.00100) (1040,0.00101) (1100,0.00102) (1160,0.00102) (1220,0.00103) (1280,0.00104) (1340,0.00104) (1400,0.00105) (1460,0.00106) (1520,0.00107) (1580,0.00107) (1640,0.00108) (1700,0.00109) (1760,0.00110) (1820,0.00111) (1880,0.00113) (1940,0.00114) (2000,0.00116)};
\addplot[walk] coordinates {(270,0.00140) (330,0.00140) (330,0.00133) (420,0.00133) (420,0.00127) (470,0.00127) (470,0.00120)};
\addplot[walk] coordinates {(290,0.00124) (380,0.00124) (380,0.00118) (430,0.00118)};
\addplot[dwalk] coordinates {(500,0.00128) (550,0.00130) (600,0.00131) (650,0.00133) (700,0.00134) (800,0.00135) (900,0.00136) (1000,0.00137) (1100,0.00137) (1200,0.00137) (1300,0.001365)};
\addplot[walk] coordinates {(170,0.00212) (190,0.00222) (205,0.00232) (211,0.00239) (220,0.00225) (235,0.00228) (248,0.00238) (255,0.00240) (262,0.00224) (280,0.00218) (300,0.00212) (330,0.00205) (360,0.00200) (400,0.00195)};
\addplot[walk] coordinates {(380,0.00192) (440,0.00191) (500,0.00190) (520,0.00188) (580,0.00188) (600,0.00183) (640,0.00181)};
\addplot[walk] coordinates {(420,0.00187) (470,0.00186) (520,0.00185) (560,0.00183) (620,0.00180) (660,0.00178)};
\addplot[walk] coordinates {(30,0.00112) (50,0.00104) (70,0.00096) (85,0.00088) (100,0.00078) (115,0.00070) (130,0.00065) (138,0.00060) (150,0.00067) (170,0.00072) (190,0.00071) (210,0.00075) (240,0.00074) (270,0.00077)};
\addplot[walk] coordinates {(260,0.00079) (320,0.00078) (380,0.00079) (440,0.00080) (500,0.00081) (560,0.00082) (610,0.00083) (620,0.00088) (660,0.00090)};
\addplot[walk] coordinates {(800,0.00170) (840,0.00172) (851,0.00181) (860,0.00171) (900,0.00169)};
\addplot[walk] coordinates {(900,0.00100) (1000,0.00102) (1100,0.00101) (1200,0.00103) (1300,0.00105) (1400,0.00106) (1500,0.00107) (1600,0.00109) (1700,0.00110) (1800,0.00112) (2000,0.00117)};
\addplot[walk] coordinates {(0,0.00170) (30,0.00178) (45,0.00191) (55,0.00175) (70,0.00178)};
\end{axis}
% ---------------- tau_2 ----------------
\begin{axis}[trace, at={(0pt,-283.95pt)}, anchor=north west, ymin=0.0000165, ymax=0.0002555,
  ytick={0.0001,0.0002}, yticklabels={0.0001,0.0002}, ylabel={\textit{τ}\textsubscript{2}}]
\addplot[band] coordinates {(0,0.000188) (12,0.000192) (25,0.000189) (36,0.000196) (50,0.000200) (65,0.000207) (80,0.000212) (95,0.000216) (110,0.000221) (125,0.000225) (140,0.000228) (153,0.000229) (170,0.000228) (190,0.000226) (211,0.000225) (230,0.000221) (250,0.000216) (270,0.000212) (284,0.000209) (310,0.000203) (330,0.000199) (356,0.000193) (380,0.000187) (400,0.000183) (429,0.000177) (460,0.000171) (490,0.000167) (520,0.000162) (550,0.000158) (589,0.000153) (620,0.000150) (650,0.000147) (680,0.000149) (710,0.000152) (740,0.000156) (780,0.000158) (836,0.000160) (900,0.000161) (982,0.000162) (1050,0.000163) (1100,0.000165) (1200,0.000166) (1300,0.000168) (1345,0.000169) (1400,0.000170) (1491,0.000171) (1550,0.000172) (1636,0.000173) (1700,0.000174) (1782,0.000175) (1850,0.000176) (1900,0.000176) (1950,0.000177) (2000,0.000177)
 (2000,0.000091) (1950,0.000090) (1900,0.000090) (1850,0.000089) (1782,0.000088) (1700,0.000087) (1636,0.000086) (1550,0.000085) (1491,0.000084) (1400,0.000082) (1345,0.000080) (1300,0.000079) (1200,0.000076) (1100,0.000074) (1050,0.000073) (982,0.000072) (900,0.000070) (836,0.000068) (780,0.000065) (734,0.000062) (690,0.000061) (662,0.000060) (620,0.000061) (589,0.000062) (550,0.000065) (502,0.000068) (470,0.000075) (429,0.000080) (400,0.000085) (356,0.000088) (320,0.000092) (284,0.000096) (250,0.000100) (211,0.000104) (180,0.000108) (153,0.000112) (124,0.000115) (95,0.000118) (65,0.000121) (36,0.000124) (18,0.000128) (0,0.000132)};
\addplot[fuzz] coordinates {(0,0.000193) (40,0.000200) (80,0.000216) (120,0.000228) (160,0.000233) (200,0.000230) (240,0.000224) (280,0.000215) (320,0.000206) (360,0.000198) (400,0.000190) (440,0.000182) (480,0.000174) (520,0.000168) (560,0.000163) (600,0.000158) (640,0.000154) (680,0.000156) (720,0.000160) (760,0.000163) (800,0.000165) (860,0.000166) (920,0.000167) (980,0.000168) (1040,0.000169) (1100,0.000171) (1160,0.000172) (1220,0.000173) (1280,0.000174) (1340,0.000175) (1400,0.000176) (1460,0.000177) (1520,0.000177) (1580,0.000178) (1640,0.000179) (1700,0.000179) (1760,0.000180) (1820,0.000180) (1880,0.000181) (1940,0.000181) (2000,0.000182)};
\addplot[fuzz] coordinates {(0,0.000128) (40,0.000118) (80,0.000115) (120,0.000110) (160,0.000107) (200,0.000100) (240,0.000096) (280,0.000091) (320,0.000088) (360,0.000083) (400,0.000080) (440,0.000074) (480,0.000068) (520,0.000063) (560,0.000059) (600,0.000057) (640,0.000055) (680,0.000056) (720,0.000057) (760,0.000060) (800,0.000062) (860,0.000064) (920,0.000066) (980,0.000067) (1040,0.000068) (1100,0.000069) (1160,0.000071) (1220,0.000072) (1280,0.000074) (1340,0.000075) (1400,0.000077) (1460,0.000078) (1520,0.000079) (1580,0.000080) (1640,0.000081) (1700,0.000082) (1760,0.000083) (1820,0.000084) (1880,0.000085) (1940,0.000086) (2000,0.000086)};
\addplot[walk] coordinates {(150,0.00022) (180,0.00024) (211,0.000248) (327,0.000248) (330,0.00021) (360,0.0002) (400,0.00019)};
\addplot[walk] coordinates {(250,0.00022) (300,0.000234) (444,0.000234) (450,0.00019) (480,0.00018) (500,0.00017)};
\addplot[walk] coordinates {(400,0.0002) (460,0.000195) (618,0.000193) (620,0.00016) (650,0.00015)};
\addplot[walk] coordinates {(500,0.00016) (600,0.000157) (690,0.000156) (700,0.00014)};
\addplot[walk] coordinates {(1000,0.00016) (1100,0.00017) (1120,0.000192) (1140,0.00017) (1250,0.00017) (1300,0.000185) (1400,0.00019) (1450,0.000185) (1500,0.000195) (1540,0.00019) (1600,0.000185) (1700,0.00018) (1800,0.00018) (1900,0.00019) (1950,0.000185) (2000,0.00018)};
\addplot[walk] coordinates {(780,0.000162) (820,0.000165) (830,0.000189) (840,0.000166) (900,0.000165)};
\addplot[walk] coordinates {(500,0.00007) (560,0.00006) (600,0.00005) (647,0.000031) (660,0.00005) (720,0.000045) (785,0.000027) (800,0.00004) (850,0.00005) (900,0.00005) (950,0.000055) (1000,0.00004) (1025,0.000032) (1050,0.00005) (1100,0.00006)};
\addplot[walk] coordinates {(1600,0.000075) (1700,0.00007) (1750,0.00006) (1800,0.00006) (1850,0.000065) (1900,0.000062) (2000,0.000072)};
\addplot[walk] coordinates {(1300,0.00006) (1400,0.00005) (1450,0.000055) (1500,0.00006) (1550,0.00007) (1622,0.000045) (1650,0.00007)};
\addplot[walk] coordinates {(150,0.0001) (200,0.00009) (230,0.000075) (290,0.000077) (300,0.00009)};
\end{axis}
% ---------------- W ----------------
\begin{axis}[trace, at={(0pt,-340.74pt)}, anchor=north west, ymin=0.37, ymax=11.89,
  ytick={5,10}, yticklabels={5,10}, ylabel={W},
  xticklabels={0,250,500,750,1000,1250,1500,1750,2000}, xlabel={step number}]
\addplot[band] coordinates {(0,9.3) (12,9.1) (25,9.5) (36,9.5) (50,9.7) (65,9.6) (80,9.9) (95,10.0) (110,10.2) (124,10.3) (138,10.4) (155,10.3) (170,10.4) (196,10.3) (220,10.1) (240,9.9) (255,9.8) (280,9.5) (300,9.35) (327,9.15) (350,8.95) (371,8.8) (390,8.7) (415,8.55) (440,8.4) (473,8.3) (510,8.15) (545,8.0) (580,7.9) (618,7.8) (650,7.7) (691,7.6) (730,7.55) (764,7.5) (800,7.4) (850,7.3) (909,7.2) (960,7.1) (1000,7.0) (1055,6.9) (1100,6.8) (1150,6.7) (1200,6.55) (1250,6.55) (1300,6.6) (1345,6.65) (1400,6.8) (1450,6.95) (1491,7.05) (1550,7.2) (1600,7.45) (1636,7.6) (1700,7.75) (1750,7.9) (1782,8.05) (1850,8.25) (1900,8.4) (1950,8.5) (2000,8.6)
 (2000,4.4) (1950,4.35) (1900,4.3) (1850,4.25) (1782,4.2) (1700,4.15) (1636,4.1) (1550,4.0) (1491,3.9) (1400,3.8) (1345,3.7) (1300,3.55) (1250,3.4) (1200,3.2) (1150,3.05) (1100,2.9) (1055,2.75) (1000,2.6) (950,2.45) (909,2.35) (850,2.2) (800,2.1) (764,1.95) (720,1.8) (691,1.65) (650,1.5) (618,1.35) (580,1.05) (545,0.9) (510,0.9) (473,0.95) (450,1.2) (430,1.5) (415,1.8) (395,2.1) (371,2.4) (350,2.9) (327,3.3) (300,3.5) (280,3.6) (255,3.7) (230,3.8) (196,3.9) (170,4.1) (138,4.3) (110,4.6) (80,5.1) (60,5.4) (36,5.8) (18,6.3) (0,6.8)};
\addplot[fuzz] coordinates {(0,9.6) (40,9.8) (80,10.2) (120,10.6) (160,10.7) (200,10.6) (240,10.2) (280,9.8) (320,9.5) (360,9.2) (400,9.0) (440,8.7) (480,8.6) (520,8.4) (560,8.3) (600,8.2) (640,8.0) (680,7.9) (720,7.85) (760,7.8) (800,7.7) (860,7.6) (920,7.5) (980,7.35) (1040,7.2) (1100,7.1) (1160,7.0) (1220,6.9) (1280,6.9) (1340,6.95) (1400,7.1) (1460,7.25) (1520,7.4) (1580,7.65) (1640,7.85) (1700,8.0) (1760,8.2) (1820,8.4) (1880,8.6) (1940,8.8) (2000,8.9)};
\addplot[fuzz] coordinates {(0,6.5) (40,5.4) (80,4.8) (120,4.3) (160,3.8) (200,3.6) (240,3.4) (280,3.3) (320,3.0) (360,2.5) (400,1.8) (440,1.2) (480,0.8) (520,0.75) (560,0.8) (600,1.1) (640,1.35) (680,1.5) (720,1.65) (760,1.8) (800,1.95) (860,2.1) (920,2.2) (980,2.4) (1040,2.6) (1100,2.75) (1160,2.9) (1220,3.05) (1280,3.25) (1340,3.45) (1400,3.55) (1460,3.65) (1520,3.75) (1580,3.85) (1640,3.9) (1700,3.95) (1760,4.0) (1820,4.05) (1880,4.1) (1940,4.15) (2000,4.2)};
\addplot[walk] coordinates {(120,10.3) (150,10.8) (167,11.5) (211,11.5) (220,10.8) (250,10.7) (300,10.2) (330,9.6) (380,9.2) (390,9.4) (440,9.4) (450,8.8) (480,8.6)};
\addplot[walk] coordinates {(298,9.7) (385,9.7) (390,9.1) (420,9.0)};
\addplot[walk] coordinates {(480,8.6) (520,8.4) (618,8.4) (630,7.9) (676,8.1) (749,8.1) (760,7.6) (851,8.2) (900,8.0) (982,8.0) (1000,7.2)};
\addplot[walk] coordinates {(1100,7) (1200,7.3) (1300,7.4) (1400,7.5) (1418,8.6) (1430,7.5) (1480,8.4) (1500,7.6) (1600,7.8) (1700,8.2) (1800,8.5) (1860,9.3) (1900,9.4) (1950,9.0) (2000,9.0)};
\addplot[walk] coordinates {(40,6) (80,4.8) (110,4.5) (138,3.3) (167,3.3) (180,3.5) (200,3.0) (220,2.8) (262,1.6) (270,2.5) (300,2.8) (330,2.3) (380,2.0) (420,1.5)};
\addplot[walk] coordinates {(1300,3.6) (1400,3.3) (1418,2.7) (1430,3.4) (1500,3.8) (1600,3.7) (1700,3.4) (1800,3.8) (1900,3.9) (2000,4.1)};
\end{axis}
\end{tikzpicture}
\end{document}
